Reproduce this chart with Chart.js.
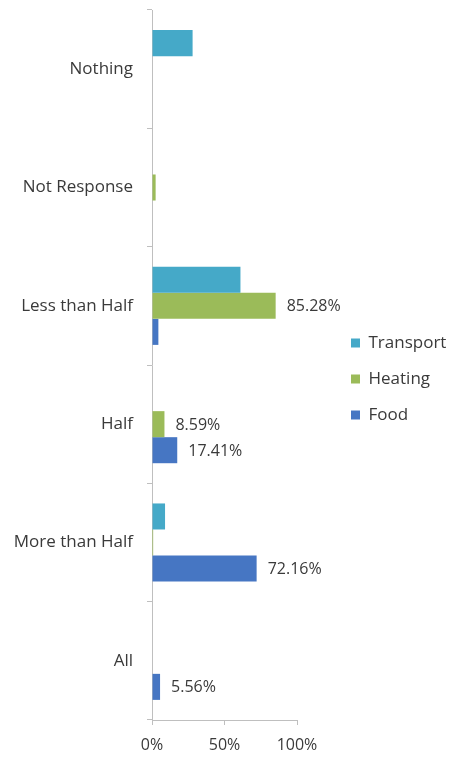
<!DOCTYPE html>
<html><head><meta charset="utf-8">
<script src="https://cdn.jsdelivr.net/npm/chart.js@4"></script>
<style>html,body{margin:0;padding:0;background:#fff}#wrap{position:relative;width:450px;height:758px}</style>
</head><body>
<div id="wrap"><canvas id="ch"></canvas></div>
<script>
// ===================== DATOS =====================
const categorias=['Nothing','Not Response','Less than Half','Half','More than Half','All'];
const transport=[28,0,61,0,9,0];
const heating=[0,2.5,85.28,8.59,0.8,0];
const food=[0,0,4.4,17.41,72.16,5.56];
// indices que llevan etiqueta de valor
const conEtiqueta={Heating:[2,3],Food:[3,4,5]};

const txt='#3a3a3a',eje='#bfbfbf',fuente='"Open Sans"';

// etiquetas de valor a la derecha de la barra
const etiquetas={id:'etiquetas',afterDatasetsDraw(chart){
  const ctx=chart.ctx;
  chart.data.datasets.forEach((ds,i)=>{
    const meta=chart.getDatasetMeta(i);
    (conEtiqueta[ds.label]||[]).forEach(j=>{
      const b=meta.data[j];
      ctx.save();
      ctx.font='16px '+fuente;ctx.fillStyle=txt;ctx.textAlign='left';ctx.textBaseline='middle';
      ctx.fillText(ds.data[j].toFixed(2)+'%',b.x+11,b.y+1);
      ctx.restore();
    });
  });
}};

// leyenda a la derecha, con area de grafico mas angosta
const leyendaLado={id:'leyendaLado',
  beforeInit(chart){const fit=chart.legend.fit;chart.legend.fit=function(){fit.call(this);this.width=153;};},
  afterLayout(chart){const l=chart.legend;l.left+=35;l.right+=35;l.top-=5;l.bottom-=5;}
};

new Chart(document.getElementById('ch'),{
  type:'bar',
  data:{labels:categorias,datasets:[
    {label:'Transport',data:transport,backgroundColor:'#45a9c8'},
    {label:'Heating',data:heating,backgroundColor:'#9bbb59'},
    {label:'Food',data:food,backgroundColor:'#4676c3'}
  ]},
  options:{
    indexAxis:'y',responsive:true,maintainAspectRatio:false,animation:false,
    datasets:{bar:{categoryPercentage:0.66,barPercentage:1}},
    layout:{padding:{top:10,bottom:0,left:0,right:0}},
    plugins:{
      tooltip:{enabled:false},
      legend:{position:'right',labels:{color:txt,font:{family:fuente,size:17},boxWidth:9,boxHeight:9,padding:19}}
    },
    scales:{
      x:{min:0,max:100,afterFit(s){s.height-=7;},
        ticks:{stepSize:50,color:txt,font:{family:fuente,size:16,lineHeight:1},padding:12,callback:v=>v+'%'},
        grid:{drawOnChartArea:false,tickLength:5,color:eje},border:{color:eje}},
      y:{afterFit(s){s.width=152;s.paddingTop=0;s.paddingBottom=0;},
        ticks:{color:txt,font:{family:fuente,size:17},padding:14},
        grid:{drawOnChartArea:false,tickLength:5,color:eje},border:{color:eje}}
    }
  },
  plugins:[etiquetas,leyendaLado]
});
</script>
</body></html>
